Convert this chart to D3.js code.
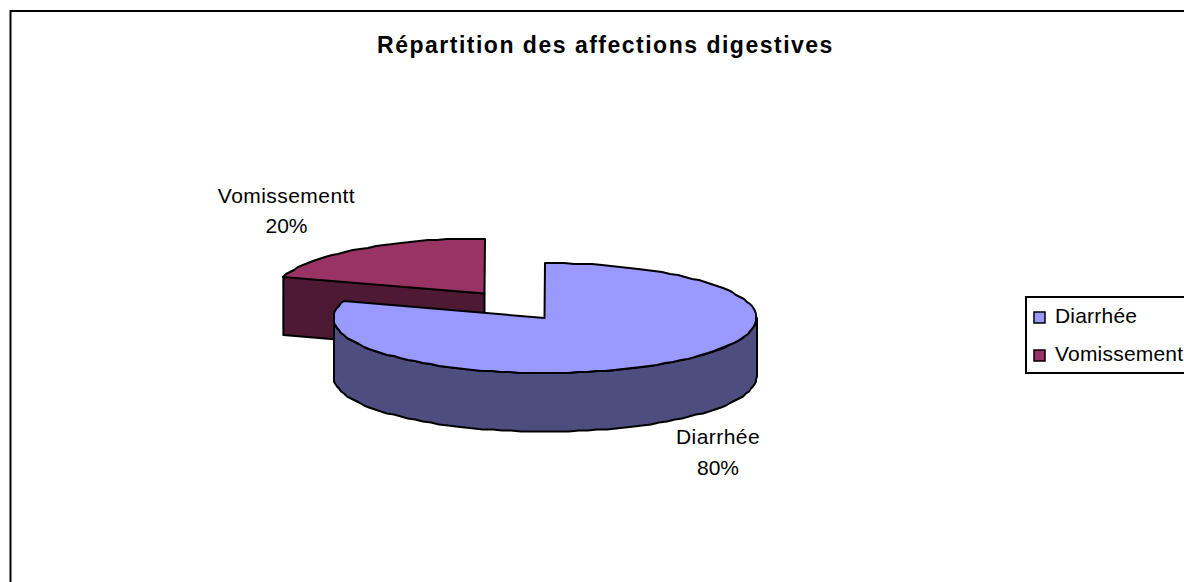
<!DOCTYPE html>
<html>
<head>
<meta charset="utf-8">
<script src="https://cdn.jsdelivr.net/npm/d3@7"></script>
<style>
  html, body { margin: 0; padding: 0; background: #fff; }
  svg { display: block; }
  text { font-family: "Liberation Sans", Arial, sans-serif; fill: #000; }
</style>
</head>
<body>
<div id="chart-area"></div>
<script>
//Chart data
var categories = ["Diarrhée", "Vomissement"];
var pieLabels = ["Diarrhée", "Vomissementt"];
var values = [80, 20];
var chartTitle = "Répartition des affections digestives";

var topColors = ["#9999FF", "#993366"];
var sideColors = ["#4D4D80", "#4D1933"];

//Set Chart Area
var width = 1184,
    height = 582,
    rx = 211.5,
    ry = 55,
    depth = 58.5;

var svg = d3.select("#chart-area").append("svg")
    .attr("width", width)
    .attr("height", height);

//Outer frame, only top and left are in view
svg.append("rect")
    .attr("x", 10.5)
    .attr("y", 11)
    .attr("width", width + 40)
    .attr("height", height + 40)
    .attr("fill", "#fff")
    .attr("stroke", "#000")
    .attr("stroke-width", 2);

//Title
svg.append("text")
    .attr("x", 605.5)
    .attr("y", 53)
    .attr("text-anchor", "middle")
    .style("font-size", "23px")
    .style("font-weight", "bold")
    .style("letter-spacing", "1.5px")
    .text(chartTitle);

//Pie angles, first slice starts at the top and goes clockwise
var pie = d3.pie().sort(null);
var arcs = pie(values);

//Each slice gets its own flattened scales (the small one is pulled out)
function slicePos(cx, cy) {
    return {
        x: d3.scaleLinear().domain([-1, 1]).range([cx - rx, cx + rx]),
        y: d3.scaleLinear().domain([-1, 1]).range([cy - ry, cy + ry]),
        cy: cy
    };
}
var mainPos = slicePos(545, 318);
var smallPos = slicePos(484.5, 293.5);

var line = d3.line();

function rim(pos, a0, a1, dy) {
    var n = Math.max(2, Math.round(Math.abs(a1 - a0) * 22));
    return d3.range(n + 1).map(function(i) {
        var a = a0 + (a1 - a0) * i / n;
        return [Math.round(pos.x(Math.sin(a))), Math.round(pos.y(-Math.cos(a))) + dy];
    });
}

function drawShape(points, fill) {
    svg.append("path")
        .attr("d", line(points) + "Z")
        .attr("fill", fill)
        .attr("stroke", "#000")
        .attr("stroke-width", 2)
        .attr("stroke-linejoin", "round");
}

//Small slice: cut wall first, then top face
var small = arcs[1];
var smallEdge = [smallPos.x(Math.sin(small.startAngle)), smallPos.y(-Math.cos(small.startAngle))];
var smallCentre = [smallPos.x(0), smallPos.y(0)];
drawShape([
    smallEdge,
    smallCentre,
    [smallCentre[0], smallCentre[1] + depth],
    [smallEdge[0], smallEdge[1] + depth]
], sideColors[1]);
drawShape(rim(smallPos, small.startAngle, small.endAngle, 0).concat([smallCentre]), topColors[1]);

//Big slice: front wall from right to left, then top face
var big = arcs[0];
var frontTop = rim(mainPos, Math.PI / 2, Math.PI * 1.5, 0);
var frontBottom = rim(mainPos, Math.PI / 2, Math.PI * 1.5, depth).reverse();
drawShape(frontTop.concat(frontBottom), sideColors[0]);
drawShape(rim(mainPos, big.startAngle, big.endAngle, 0).concat([[mainPos.x(0) - 0.5, mainPos.y(0)]]), topColors[0]);

//Slice labels
var labelSpots = [[718, 444, 475], [286.5, 203, 233]];
arcs.forEach(function(d, i) {
    svg.append("text")
        .attr("x", labelSpots[i][0])
        .attr("y", labelSpots[i][1])
        .attr("text-anchor", "middle")
        .style("font-size", "21px")
        .style("letter-spacing", "0.45px")
        .text(pieLabels[i]);
    svg.append("text")
        .attr("x", labelSpots[i][0])
        .attr("y", labelSpots[i][2])
        .attr("text-anchor", "middle")
        .style("font-size", "21px")
        .text(d.value + "%");
});

//Legend, runs off the right side like the original
var legendY = d3.scalePoint().domain(categories).range([317.5, 355.5]);

svg.append("rect")
    .attr("x", 1026)
    .attr("y", 297)
    .attr("width", 220)
    .attr("height", 76)
    .attr("fill", "#fff")
    .attr("stroke", "#000")
    .attr("stroke-width", 2);

svg.selectAll(".swatch")
    .data(categories)
    .enter()
    .append("rect")
    .attr("class", "swatch")
    .attr("x", 1034)
    .attr("y", (d) => legendY(d) - 5.5)
    .attr("width", 11)
    .attr("height", 11)
    .attr("fill", (d, i) => topColors[i])
    .attr("stroke", "#000")
    .attr("stroke-width", 1.5);

svg.selectAll(".legend-label")
    .data(categories)
    .enter()
    .append("text")
    .attr("class", "legend-label")
    .attr("x", 1055)
    .attr("y", (d) => legendY(d) + 5.5)
    .style("font-size", "21px")
    .style("letter-spacing", "0.2px")
    .text((d) => d);
</script>
</body>
</html>
